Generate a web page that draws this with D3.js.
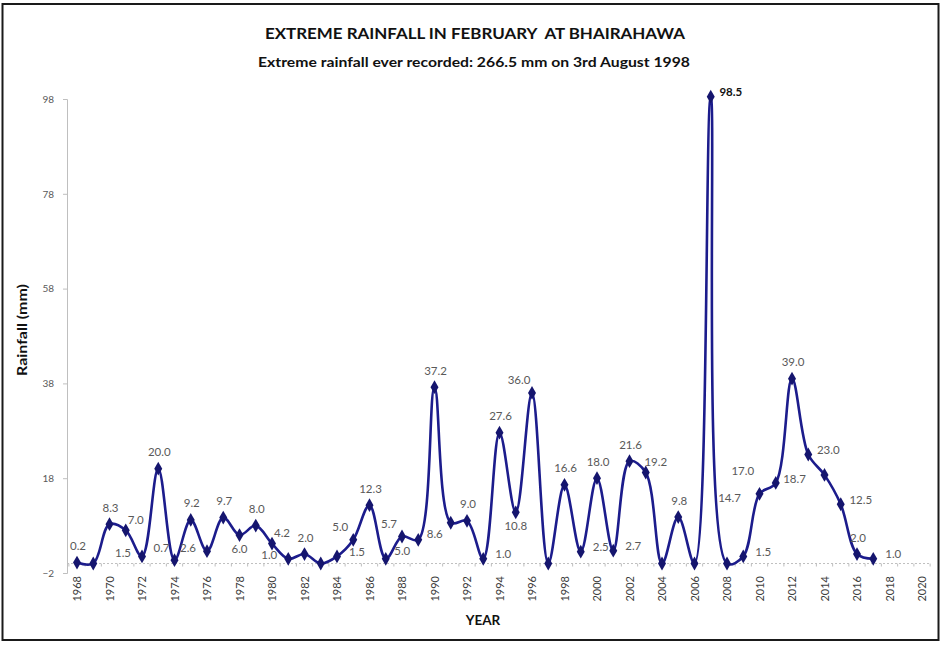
<!DOCTYPE html>
<html><head><meta charset="utf-8">
<script src="https://cdn.jsdelivr.net/npm/d3@7"></script>
<style>body{margin:0;background:#fff}svg{display:block}</style>
</head><body>
<svg id="c" width="941" height="646"></svg>
<script>
const title = "EXTREME RAINFALL IN FEBRUARY  AT BHAIRAHAWA";
const subtitle = "Extreme rainfall ever recorded: 266.5 mm on 3rd August 1998";
const years = d3.range(1968, 2018);
const rainfall = [0.2,0.0,8.3,7.0,1.5,20.0,0.7,9.2,2.6,9.7,6.0,8.0,4.2,1.0,2.0,0.0,1.5,5.0,12.3,1.0,
  5.7,5.0,37.2,8.6,9.0,1.0,27.6,10.8,36.0,0.0,16.6,2.5,18.0,2.7,21.6,19.2,0.0,9.8,0.0,98.5,
  0.0,1.5,14.7,17.0,39.0,23.0,18.7,12.5,2.0,1.0];
const labelSide = ["N","","N","NE","W","N","NW","N","W","N","S","N","NE","W","N","","E","NW","N","",
  "NW","SW","N","SW","N","E","N","S","NW","","N","E","N","E","N","NE","","N","","E",
  "","E","WW","NWW","N","E","WW","E","N","E"];
const yTicks = [-2,18,38,58,78,98];
const xTickYears = d3.range(1968, 2021, 2);

const offsets = {N:[1,-17],S:[0,13],E:[20,-5],W:[-19,-4],NE:[10,-11],NW:[-13,-13],SW:[-16,11],NWW:[-33,-12],WW:[-30,4]};

const svg = d3.select("#c");
const font = "Lato, 'Open Sans', Arial, sans-serif";
svg.append("rect").attr("x",2.5).attr("y",4).attr("width",936).attr("height",636)
  .attr("fill","#fff").attr("stroke","#1a1a1a").attr("stroke-width",2);

const x = d3.scaleLinear().domain([1968,2020]).range([77,922]);
const y = d3.scaleLinear().domain([-2,98]).range([573,99]);

svg.append("text").attr("x",475).attr("y",38.5).attr("text-anchor","middle")
  .attr("font-family",font).attr("font-weight","bold").attr("font-size",14.5).attr("fill","#111")
  .attr("textLength",420).attr("lengthAdjust","spacingAndGlyphs")
  .style("white-space","pre").text(title);
svg.append("text").attr("x",474).attr("y",67).attr("text-anchor","middle")
  .attr("font-family",font).attr("font-weight","bold").attr("font-size",12.5).attr("fill","#111")
  .attr("textLength",432).attr("lengthAdjust","spacingAndGlyphs").text(subtitle);

// y axis
const yAxis = svg.append("g").attr("transform","translate(67,0)")
  .call(d3.axisLeft(y).tickValues(yTicks).tickSize(4).tickPadding(9).tickFormat(d3.format("d")));
yAxis.select(".domain").attr("stroke","#bfbfbf");
yAxis.selectAll(".tick line").attr("stroke","#bfbfbf");
yAxis.selectAll("text").attr("font-family",font).attr("font-size",10).attr("fill","#595959");

// x axis at value 0
const xg = svg.append("g").attr("transform",`translate(0,${y(0)})`);
xg.append("line").attr("x1",67).attr("x2",930).attr("stroke","#bfbfbf").attr("stroke-dasharray","2,2");
xg.selectAll("line.t").data(d3.range(1967.5,2021,1)).join("line").attr("class","t")
  .attr("x1",d=>x(d)).attr("x2",d=>x(d)).attr("y1",0).attr("y2",3).attr("stroke","#bfbfbf");
svg.append("g").selectAll("text").data(xTickYears).join("text")
  .attr("transform",d=>`translate(${x(d)+4},${y(-2)+3}) rotate(-90)`)
  .attr("text-anchor","end").attr("font-family",font).attr("font-size",11).attr("fill","#404040")
  .text(d=>d);

svg.append("text").attr("x",483).attr("y",625).attr("text-anchor","middle")
  .attr("font-family",font).attr("font-weight","bold").attr("font-size",13.5).attr("fill","#111").text("YEAR");
svg.append("text").attr("transform","translate(27,330) rotate(-90)").attr("text-anchor","middle")
  .attr("font-family",font).attr("font-weight","bold").attr("font-size",14).attr("fill","#111")
  .attr("textLength",92).attr("lengthAdjust","spacingAndGlyphs").text("Rainfall (mm)");

const data = years.map((yr,i)=>({yr, v:rainfall[i], side:labelSide[i]}));
const line = d3.line().x(d=>x(d.yr)).y(d=>y(d.v)).curve(d3.curveCatmullRom.alpha(0.5));
svg.append("path").datum(data).attr("d",line).attr("fill","none")
  .attr("stroke","#1c1c8c").attr("stroke-width",2.6).attr("stroke-linejoin","round");
svg.append("g").selectAll("path").data(data).join("path")
  .attr("d",d3.symbol(d3.symbolDiamond,55)).attr("transform",d=>`translate(${x(d.yr)},${y(d.v)})`)
  .attr("fill","#15156e");

svg.append("g").selectAll("text").data(data.filter(d=>d.side)).join("text")
  .attr("x",d=>x(d.yr)+offsets[d.side][0]).attr("y",d=>y(d.v)+offsets[d.side][1])
  .attr("text-anchor","middle").attr("dominant-baseline","central")
  .attr("font-family",font).attr("font-size",11.5)
  .attr("font-weight",d=>d.v>90?"bold":"normal")
  .attr("fill",d=>d.v>90?"#111":"#595959")
  .text(d=>d.v.toFixed(1));
</script>
</body></html>
